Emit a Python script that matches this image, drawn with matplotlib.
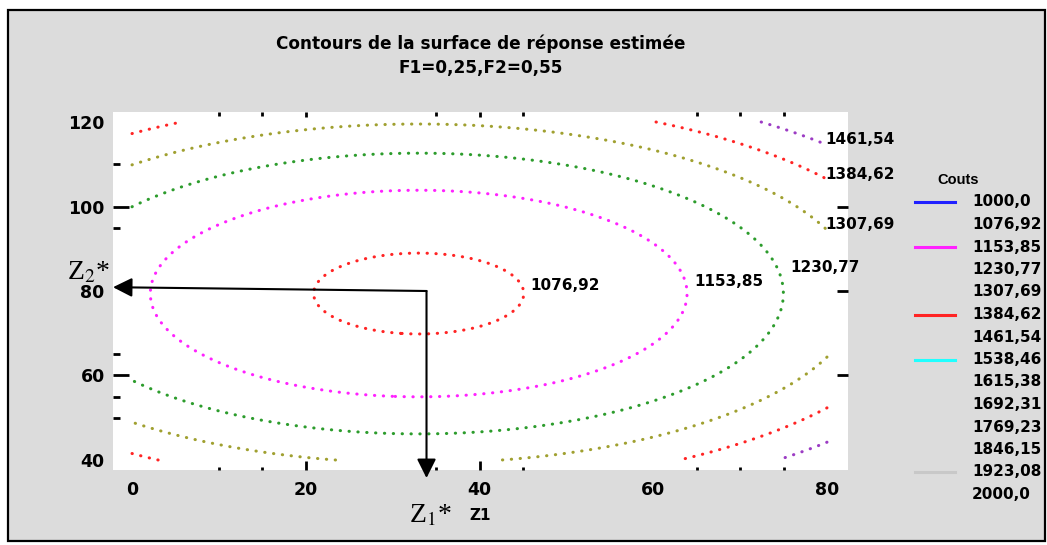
import numpy as np
import matplotlib
matplotlib.use('Agg')
from matplotlib import pyplot as plt
from matplotlib.patches import Rectangle
from matplotlib.lines import Line2D

# fitted cost surface: cost = c_min + a*(Z1-c1)^2 + b*(Z2-c2)^2 on Z1 in [0,80], Z2 in [40,120]
center_z1 = 33.0
center_z2 = 79.4
c_min = 1063.0
coef_z1 = 0.0952
coef_z2 = 0.152
z1_range = (0, 80)
z2_range = (40, 120)

# optimum (arrows)
z1_star = 33.9
z2_star = 80.0

# contour levels (Couts) and their colours
level_values = [1000.0, 1076.92, 1153.85, 1230.77, 1307.69, 1384.62, 1461.54,
                1538.46, 1615.38, 1692.31, 1769.23, 1846.15, 1923.08, 2000.0]
plot_colors = ['#2020ff', '#ff2424', '#ff22ff', '#2c9c2c', '#a0a030', '#ff2424', '#9c3cc4',
               '#20ffff', '#2020ff', '#ff22ff', '#ff2424', '#20ffff', '#c0c0c0', '#2020ff']
legend_colors = ['#2020ff', None, '#ff22ff', None, None, '#ff2424', None,
                 '#20ffff', None, None, None, None, '#c8c8c8', None]
closed_labels = [1076.92, 1153.85, 1230.77]
edge_labels = [1307.69, 1384.62, 1461.54]
label_lift = [1.9, 2.9, 6.2]

x_ticks = [0, 20, 40, 60, 80]
y_ticks = [40, 60, 80, 100, 120]
x_marks_major = [20, 40]
x_marks_minor = [10, 15, 35, 45, 65, 70, 75]
y_marks_left_major = [60, 100]
y_marks_left_minor = [50, 55, 65, 95, 110]
y_marks_right_major = [60, 80, 100]

W, H = 1047, 545
num_font = dict(family='DejaVu Sans', fontweight='bold', fontsize=11)


def fmt(v):
    s = '{0:.2f}'.format(v)
    if s.endswith('.00'):
        s = '{0:.1f}'.format(v)
    return s.replace('.', ',')


def cost(z1, z2):
    return c_min + coef_z1 * (z1 - center_z1) ** 2 + coef_z2 * (z2 - center_z2) ** 2


fig = plt.figure(figsize=(W / 100, H / 100), dpi=100, facecolor='white')
fig.patches.append(Rectangle((8 / W, 1 - 541 / H), (1045 - 8) / W, (541 - 10) / H,
                             transform=fig.transFigure, facecolor='#dcdcdc',
                             edgecolor='black', linewidth=1.6, zorder=-10))

ax = fig.add_axes([113 / W, 1 - 470 / H, (848 - 113) / W, (470 - 112) / H])
ax.set_facecolor('white')
xlim = (-2.19, 82.42)
ylim = (37.63, 122.37)
ax.set_xlim(*xlim)
ax.set_ylim(*ylim)
for sp in ax.spines.values():
    sp.set_visible(False)

z1 = np.linspace(z1_range[0], z1_range[1], 500)
z2 = np.linspace(z2_range[0], z2_range[1], 500)
Z1, Z2 = np.meshgrid(z1, z2)
C = cost(Z1, Z2)
cs = ax.contour(Z1, Z2, C, levels=level_values, colors=plot_colors,
                linewidths=2.2, linestyles=[(0, (0.1, 2.8))])
cs.set_capstyle('round')

# level labels: closed contours at their right end, open ones at the right border
for lv, lift in zip(closed_labels, label_lift):
    xr = center_z1 + np.sqrt((lv - c_min) / coef_z1)
    ax.text(xr + 0.8, center_z2 + lift, fmt(lv), ha='left', va='center', clip_on=False, **num_font)
for lv in edge_labels:
    ye = center_z2 + np.sqrt((lv - c_min - coef_z1 * (80 - center_z1) ** 2) / coef_z2)
    ax.text(79.8, ye + 1.2, fmt(lv), ha='left', va='center', clip_on=False, **num_font)

# axis ticks (tick labels), tick marks drawn separately
ax.set_xticks(x_ticks)
ax.set_yticks(y_ticks)
ax.tick_params(length=0, pad=8)
for lab in ax.get_xticklabels() + ax.get_yticklabels():
    lab.set_fontfamily('DejaVu Sans')
    lab.set_fontweight('bold')
    lab.set_fontsize(12.5)
ax.tick_params(axis='y', pad=6)

tx = ax.get_xaxis_transform()
ty = ax.get_yaxis_transform()
mk = dict(color='black', lw=2, solid_capstyle='butt', clip_on=False)
for v in x_marks_major:
    ax.plot([v, v], [0, 0.024], transform=tx, **mk)
    ax.plot([v, v], [1, 0.985], transform=tx, **mk)
for v in x_marks_minor:
    ax.plot([v, v], [0, 0.008], transform=tx, **mk)
    ax.plot([v, v], [1, 0.99], transform=tx, **mk)
for v in y_marks_left_major:
    ax.plot([0, 0.022], [v, v], transform=ty, **mk)
for v in y_marks_left_minor:
    ax.plot([0, 0.010], [v, v], transform=ty, **mk)
for v in y_marks_right_major:
    ax.plot([1, 0.985], [v, v], transform=ty, **mk)

ax.set_xlabel('Z1', **num_font)
ax.xaxis.set_label_coords(0.5, -0.128)
ax.xaxis.label.set_va('center')

# optimum Z1*, Z2*
arrow = dict(arrowstyle='-|>', color='black', lw=1.5, mutation_scale=29, shrinkA=0, shrinkB=0)
ax.annotate('', xy=(xlim[0], z2_star + 0.9), xytext=(z1_star, z2_star),
            arrowprops=arrow, annotation_clip=False)
ax.annotate('', xy=(z1_star, ylim[0] - 1.9), xytext=(z1_star, z2_star),
            arrowprops=arrow, annotation_clip=False)

plt.rcParams['mathtext.fontset'] = 'stix'
fig.text(67 / W, 1 - 279 / H, r'Z$_{2}$*', family='Liberation Serif', fontsize=20,
         ha='left', va='baseline')
fig.text(409 / W, 1 - 522 / H, r'Z$_{1}$*', family='Liberation Serif', fontsize=20,
         ha='left', va='baseline')

fig.text(481 / W, 1 - 44 / H, 'Contours de la surface de réponse estimée',
         ha='center', va='center', family='DejaVu Sans', fontweight='bold', fontsize=12.2)
fig.text(481 / W, 1 - 68 / H, 'F1=0,25,F2=0,55', ha='center', va='center',
         family='DejaVu Sans', fontweight='bold', fontsize=12.2)

# legend of levels
fig.text(937 / W, 1 - 180 / H, 'Couts', ha='left', va='center',
         family='Liberation Sans', fontweight='bold', fontsize=10.5)
row0, step = 202, 22.5
for i, (lv, col) in enumerate(zip(level_values, legend_colors)):
    yp = 1 - (row0 + i * step) / H
    if col is not None:
        fig.add_artist(Line2D([915 / W, 955 / W], [yp, yp], color=col, lw=2.2,
                              transform=fig.transFigure))
    fig.text(972 / W, yp, fmt(lv), ha='left', va='center', **num_font)

fig.savefig('out.png', dpi=100, facecolor=fig.get_facecolor())
